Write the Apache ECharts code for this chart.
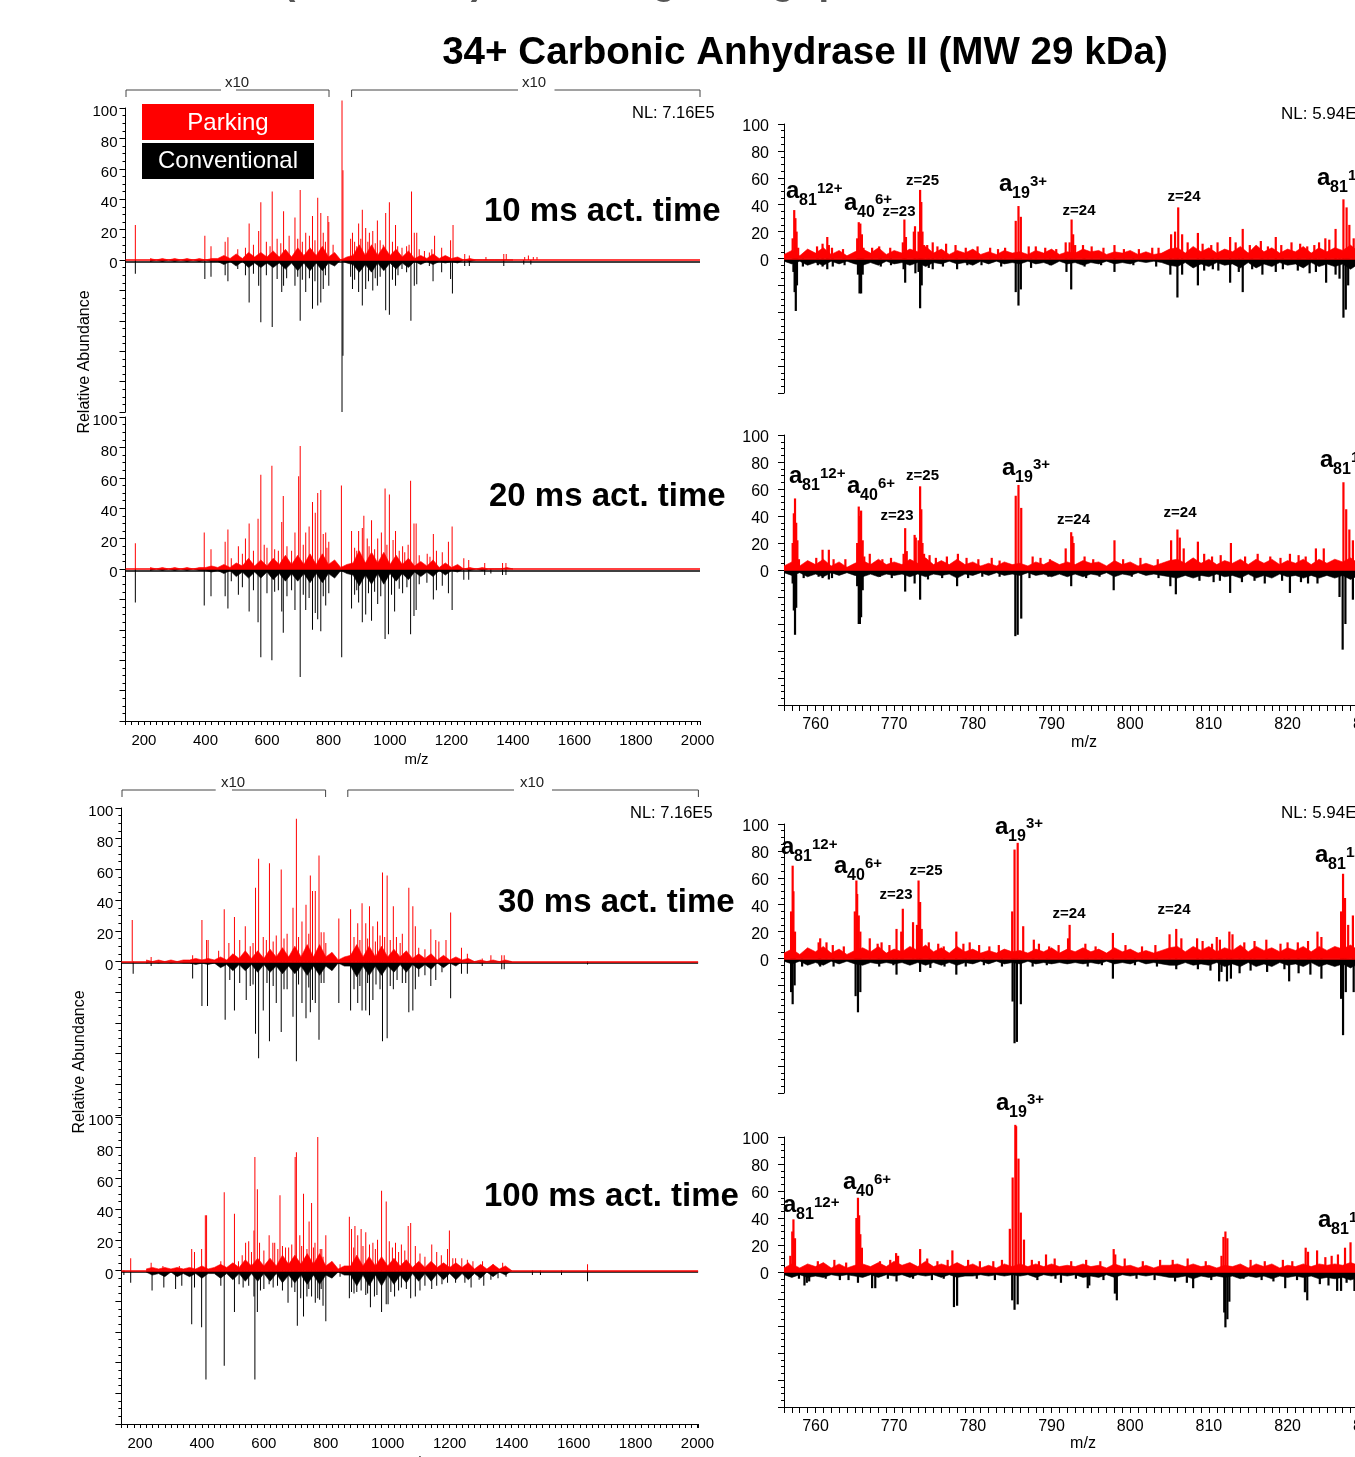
<!DOCTYPE html>
<html lang="en">
<head>
<meta charset="UTF-8">
<title>34+ Carbonic Anhydrase II</title>
<script src="https://cdn.jsdelivr.net/npm/echarts@6/dist/echarts.min.js"></script>
<style>
  html, body { margin: 0; padding: 0; background: #fff; }
  #chart { width: 1355px; height: 1457px; }
</style>
</head>
<body>
<div id="chart"></div>
<script>
// ---- peak lists [m/z, relative abundance]; conventional values are drawn downward ----
var L1_park = [[172,23],[398,16],[418,9],[464,12],[473,15],[505,7],[530,8],[542,24],[556,10],[573,19],[580,38],[598,12],[610,9],[617,45],[633,14],[645,11],[654,32],[672,16],[691,28],[700,14],[708,46],[715,12],[726,18],[738,16],[748,29],[756,13],[765,41],[775,31],[783,18],[790,12],[798,29],[801,25],[815,10],[844,105],[847,59],[872,14],[878,18],[885,12],[892,9],[898,24],[905,14],[910,33],[921,21],[928,12],[933,18],[944,19],[952,11],[959,26],[968,13],[978,10],[986,31],[998,38],[1008,12],[1018,23],[1025,9],[1039,8],[1054,9],[1062,10],[1070,45],[1079,18],[1087,18],[1095,7],[1112,6],[1128,5],[1136,7],[1145,16],[1168,8],[1197,13],[1205,23],[1243,4],[1258,3],[1312,2],[1370,4],[1378,4],[1438,2],[1450,3],[1466,2],[1478,2]];
var L1_conv = [[172,9],[398,12.5],[418,11],[464,10],[473,14],[505,6],[530,10],[542,28],[556,9],[573,17],[580,41],[598,10],[617,44],[633,12.5],[648,21],[654,17],[664,12],[691,17],[700,11],[708,40],[715,13],[726,21],[738,12],[748,32],[756,14],[765,30],[775,28],[783,19],[790,10],[801,17],[844,100],[847,63],[872,11],[878,19],[885,13],[898,21],[910,30],[921,19],[930,14],[944,20],[952,12],[959,17],[968,11],[986,33],[998,36],[1008,13],[1018,17],[1026,10],[1039,6],[1054,8],[1068,40],[1079,17],[1087,16],[1128,4],[1140,14],[1168,8],[1197,12.5],[1203,22],[1243,4],[1258,4],[1370,4],[1435,3],[1458,3]];

var L2_park = [[172,17],[396,24],[418,13],[464,18],[473,26],[484,7],[507,15],[520,10],[530,20],[542,30],[556,12],[571,33],[580,62],[591,16],[600,14],[616,68],[625,13],[637,12],[648,31],[653,48],[665,15],[680,12],[691,24],[703,61],[708,81],[718,16],[726,24],[737,28],[748,44],[757,37],[765,50],[775,52],[783,23],[791,24],[795,14],[801,18],[842,55],[875,25],[885,14],[892,12],[898,25],[910,27],[915,35],[926,20],[932,15],[940,32],[950,13],[960,20],[972,24],[984,53],[990,16],[998,49],[1010,19],[1018,25],[1030,12],[1041,15],[1048,11],[1059,16],[1067,58],[1078,30],[1085,30],[1095,9],[1121,10],[1130,8],[1141,23],[1151,12],[1170,11],[1190,18],[1202,28],[1240,7],[1256,6],[1308,4],[1366,4],[1377,4]];
var L2_conv = [[172,22],[396,24],[418,18],[464,18],[473,26],[484,8],[507,17],[520,12],[542,28],[556,14],[571,35],[580,58],[600,16],[616,60],[625,15],[637,14],[648,28],[653,42],[665,18],[680,14],[691,27],[708,71],[718,17],[726,27],[737,19],[748,40],[757,29],[765,33],[775,41],[783,18],[791,24],[801,16],[843,58],[875,26],[885,17],[892,14],[898,22],[910,35],[921,30],[930,16],[940,34],[950,15],[960,23],[970,18],[984,46],[995,43],[1005,17],[1015,28],[1030,13],[1041,16],[1055,12],[1067,43],[1078,31],[1085,27],[1095,10],[1120,9],[1141,20],[1151,14],[1170,11],[1190,16],[1202,27],[1240,7],[1256,7],[1308,4],[1328,3],[1366,4],[1377,4]];

var L3_park = [[175,27],[236,3],[370,4],[400,27],[415,14],[420,14],[454,7],[472,34],[487,12],[505,29],[522,14],[540,23],[556,10],[565,12],[573,48],[583,67],[598,16],[608,14],[618,64],[630,13],[640,17],[656,60],[665,15],[675,18],[694,35],[705,93],[712,16],[723,26],[736,37],[745,18],[750,56],[757,46],[766,46],[778,69],[785,19],[794,19],[800,12],[842,28],[880,34],[891,16],[903,25],[910,14],[917,38],[929,25],[935,15],[941,36],[952,23],[960,13],[967,26],[975,17],[983,58],[990,16],[998,56],[1008,14],[1018,36],[1028,16],[1040,12],[1047,18],[1068,48],[1081,36],[1089,23],[1100,9],[1120,8],[1139,21],[1155,14],[1165,13],[1188,14],[1203,32],[1238,9],[1257,5],[1305,2],[1333,4],[1368,4],[1376,4]];
var L3_conv = [[178,8],[236,3],[370,11],[400,29],[418,29],[454,3],[475,38],[490,12],[505,32],[522,14],[543,25],[556,16],[565,15],[573,47],[583,63],[598,32],[610,14],[618,52],[630,16],[640,27],[656,46],[665,18],[675,18],[694,36],[705,65],[712,15],[723,27],[736,37],[745,17],[750,33],[757,25],[766,27],[778,51],[785,14],[794,14],[842,27],[880,32],[891,18],[903,27],[910,16],[917,32],[929,32],[935,14],[941,35],[952,25],[962,15],[975,18],[983,52],[998,50],[1008,16],[1018,18],[1030,12],[1047,14],[1058,14],[1068,33],[1081,32],[1089,18],[1100,10],[1120,9],[1139,16],[1155,12],[1175,7],[1203,24],[1238,8],[1257,8],[1305,3],[1368,5],[1376,5],[1645,2]];

var L4_park = [[170,8],[236,5],[274,3],[327,3],[367,14],[376,12],[399,14],[411,36],[415,36],[461,6],[472,51],[505,37],[518,6],[530,10],[541,18],[551,19],[560,12],[568,26],[571,74],[579,53],[586,18],[600,13],[617,23],[629,18],[635,18],[645,14],[652,49],[660,16],[670,15],[680,15],[690,17],[701,74],[705,77],[716,23],[722,16],[728,50],[739,14],[746,32],[754,44],[760,15],[765,18],[774,87],[782,14],[787,14],[791,9],[800,23],[846,4],[876,35],[883,27],[890,15],[894,29],[903,23],[914,27],[920,16],[929,25],[941,17],[952,18],[960,14],[967,20],[980,52],[995,45],[1005,19],[1015,15],[1025,18],[1035,12],[1044,17],[1055,13],[1066,29],[1074,31],[1089,16],[1104,11],[1120,9],[1142,17],[1158,12],[1173,10],[1193,14],[1199,26],[1210,8],[1219,8],[1239,8],[1257,7],[1275,6],[1306,6],[1340,4],[1371,5],[1645,4]];
var L4_conv = [[148,3],[170,8],[239,13],[277,11],[315,12],[335,10],[367,35],[376,11],[399,37],[413,71],[461,10],[472,62],[505,27],[520,9],[533,11],[551,10],[568,17],[571,71],[579,27],[589,13],[600,12],[617,9],[630,11],[644,10],[660,13],[678,21],[690,11],[700,14],[708,36],[719,18],[728,30],[739,17],[745,12],[754,17],[766,21],[774,18],[780,19],[785,12],[791,23],[800,33],[821,4],[846,4],[876,18],[883,14],[891,15],[900,14],[914,13],[929,16],[935,15],[944,24],[957,17],[965,16],[980,27],[995,22],[1001,22],[1010,14],[1022,17],[1035,13],[1044,11],[1060,12],[1074,18],[1089,17],[1104,13],[1120,10],[1142,12],[1158,10],[1175,9],[1193,8],[1219,8],[1249,8],[1269,11],[1295,6],[1310,10],[1333,6],[1356,5],[1382,4],[1467,3],[1493,3],[1561,3],[1645,7]];

// dense low-level signal under the left spectra, every 20 m/z
var leftGrassMz = [220,240,260,280,300,320,340,360,380,400,420,440,460,480,500,520,540,560,580,600,620,640,660,680,700,720,740,760,780,800,820,840,860,880,900,920,940,960,980,1000,1020,1040,1060,1080,1100,1120,1140,1160,1180,1200,1220,1240,1260,1280,1300,1320,1340,1360,1380,1400];
var L1_parkGrass = [1,0,1,0,1,0,1,0,1,0,1, 1,3,1,4,1,5,2,5,2,6, 2,7,2,8,3,8,3,9,2,5, 0,2,3,10,3,10,3,9,3,7, 2,6,1,3,1,4,1,3,1,2, 0,1,0,0,0,0,0,0,0];
var L1_convGrass = [1,0,1,0,1,0,1,0,1,0,1, 1,3,1,4,1,5,2,5,2,5, 2,6,2,7,2,7,2,7,2,4, 0,2,3,8,3,8,2,7,2,6, 2,5,1,3,1,3,1,2,1,2, 0,1,0,0,0,0,0,0,0];
var L2_parkGrass = [1,0,1,0,1,0,1,0,1,1,2, 1,3,1,4,2,7,2,6,2,7, 3,9,3,9,3,10,3,10,3,6, 1,3,4,12,4,11,4,11,3,9, 3,7,2,5,2,6,1,4,1,3, 0,1,0,1,0,0,0,1,0];
var L2_convGrass = [1,0,1,0,1,0,1,0,1,1,2, 1,3,1,5,2,6,2,6,2,7, 3,8,3,8,3,9,3,9,3,6, 1,3,4,11,4,10,3,10,3,8, 3,7,2,5,2,5,1,4,1,2, 0,1,0,1,0,0,0,0,0];
var L3_parkGrass = [1,0,1,0,1,0,1,1,2,1,2, 1,3,1,5,2,7,2,7,2,8, 3,9,3,10,3,11,3,11,3,6, 1,3,4,11,3,10,3,10,3,8, 3,7,2,5,2,5,1,4,1,3, 1,2,0,1,0,1,0,1,0];
var L3_convGrass = [1,0,1,0,1,0,1,1,2,1,2, 1,4,2,6,2,6,2,7,2,7, 3,8,3,8,3,9,3,9,3,6, 1,3,3,10,3,9,3,9,3,7, 2,7,2,5,2,5,1,4,1,3, 0,1,0,1,0,0,0,0,0];
var L4_parkGrass = [1,2,1,2,1,2,1,2,1,3,1, 2,4,2,5,2,7,3,8,3,8, 3,10,4,10,4,11,4,11,3,6, 1,3,3,10,3,9,3,9,3,8, 3,7,2,6,2,6,2,5,2,5, 2,5,1,4,1,4,1,3,0];
var L4_convGrass = [1,3,2,4,1,4,2,4,2,5,2, 2,5,2,6,2,7,2,7,2,7, 2,8,3,8,3,9,3,9,3,5, 1,3,3,10,3,10,3,10,3,9, 3,8,2,7,2,7,2,6,2,6, 2,6,2,5,1,4,1,3,0];

// zoomed spectra: labelled ions and larger features
var R1_park = [[757.1,15],[757.3,36],[757.45,30],[757.6,20],[757.8,8],[760.9,11],[761.5,16],[761.7,10],[765.3,15],[765.5,27],[765.7,26],[765.9,18],[766.1,8],[767.2,8],[771.1,12],[771.3,29],[771.5,16],[772.5,20],[772.65,24],[773.1,20],[773.3,51],[773.45,42],[773.6,20],[773.8,10],[774.9,12],[784.1,8],[785.45,28],[785.8,39],[786.1,31],[788,9],[791.8,12],[792.3,12],[792.55,29],[792.75,18],[793,10],[794,10],[798,10],[802.8,8],[805.2,18],[805.7,20],[806.1,38],[806.6,18],[807.3,12],[808.6,19],[812.7,16],[813.4,12],[814.3,22],[818.5,16],[820.5,12],[824,12],[824.8,15],[825.3,14],[826.1,22],[827.1,44],[827.5,38],[827.85,25],[828.4,15]];
var R1_conv = [[757.2,10],[757.35,25],[757.5,39],[757.65,20],[760.9,6],[761.5,8],[765.4,12],[765.6,26],[765.8,26],[766,12],[771.2,8],[771.4,18],[772.7,11],[773.1,10],[773.3,37],[773.5,20],[774.9,8],[778,8],[785.45,25],[785.8,35],[786.1,23],[791.9,10],[792.5,23],[798,10],[805.1,12],[806,29],[806.6,12],[808.6,20],[812.7,18],[814.3,25],[818.5,10],[824.9,18],[826.1,12],[826.6,15],[827.1,44],[827.4,38],[827.7,20]];
var R2_park = [[757.1,20],[757.25,42],[757.4,53],[757.55,35],[757.7,22],[757.9,8],[760.9,15],[761.7,15],[765.3,20],[765.5,47],[765.65,40],[765.8,44],[766,22],[766.2,10],[766.9,12],[771.2,12],[771.4,31],[771.6,14],[772.6,26],[772.75,24],[773.1,22],[773.3,62],[773.45,45],[773.6,20],[773.8,12],[778.1,12],[785.45,55],[785.8,63],[786.15,46],[787.6,10],[791.8,16],[792.5,28],[792.65,25],[792.8,20],[798,22],[805.2,22],[806,30],[806.3,24],[806.8,16],[808.6,21],[812.8,20],[820.3,12],[823.6,16],[824.6,16],[827.1,65],[827.45,45],[827.85,30],[828.3,22]];
var R2_conv = [[757.1,10],[757.25,30],[757.4,48],[757.55,28],[760.9,6],[761.7,7],[765.3,12],[765.5,40],[765.65,40],[765.8,35],[766,15],[771.4,16],[772.6,10],[773.3,22],[778,12],[785.4,49],[785.7,48],[786.15,36],[792.5,12],[797.9,15],[805.1,12],[805.8,18],[812.7,17],[820.3,17],[823.8,10],[826.6,20],[827,59],[827.35,40],[828.3,22]];
var R3_park = [[756.9,35],[757.1,69],[757.2,50],[757.4,20],[760.6,15],[761.4,12],[765,35],[765.2,58],[765.3,48],[765.5,32],[765.7,20],[766.9,15],[768.4,12],[770.3,22],[770.9,20],[771.1,37],[772.4,27],[772.9,25],[773.1,58],[773.3,42],[773.5,22],[777.9,20],[779.6,12],[785,35],[785.3,81],[785.7,86],[786.4,24],[787.75,14],[792.1,15],[792.3,25],[797.8,19],[805,18],[805.85,22],[806.5,15],[808.5,15],[811,16],[812.6,20],[813,18],[820,12],[823.8,20],[824.3,16],[826.8,35],[827.05,63],[827.3,45],[827.7,25],[828.3,32]];
var R3_conv = [[756.9,25],[757.1,34],[757.35,20],[760.6,6],[765.1,28],[765.4,40],[765.7,25],[770.3,12],[773.3,10],[777.9,12],[785.05,32],[785.3,63],[785.6,62],[786.1,34],[797.8,15],[805.85,8],[811.3,17],[812.3,17],[812.8,15],[820.2,17],[824.3,15],[826.8,30],[827.05,57],[827.4,25],[828.4,25]];
var R4_park = [[756.8,12],[757.05,30],[757.2,39],[757.4,25],[765.2,40],[765.4,55],[765.55,42],[765.7,28],[765.9,18],[770.25,14],[770.5,12],[773.3,17],[777.4,16],[784.7,32],[785.06,70],[785.4,109],[785.5,108],[785.8,84],[786.1,44],[786.5,24],[789.3,13],[797.9,17],[798.1,13],[811.6,12],[811.85,26],[812.1,30],[812.35,25],[822.3,18],[822.6,15],[823.75,16],[827.3,18],[828,22]];
var R4_conv = [[758.6,10],[758.9,8],[759.2,7],[764.2,6],[765.4,8],[767.2,12],[767.6,12],[770.3,7],[777.6,26],[778,25],[785,21],[785.3,28],[785.7,24],[791.2,8],[794.6,12],[794.8,10],[798.05,16],[798.3,21],[808,12],[811.95,30],[812.1,41],[812.35,35],[812.6,22],[819.7,12],[822.2,15],[822.5,21],[826.3,14],[826.8,14],[828.5,14]];

// zoomed spectra: small spikes standing out of the noise
var R1_parkMinor = [[760.2,9],[762.1,8],[763.5,7],[768.1,9],[769.5,8],[774.2,10],[775.5,9],[776.6,11],[777.8,10],[779.1,8],[780.6,9],[782.2,8],[783.2,7],[787.1,9],[789.2,8],[790.6,7],[795.1,9],[796.6,8],[799.2,7],[801.1,7],[803.6,8],[809.2,11],[810.3,10],[811.1,12],[815.2,10],[816.6,13],[817.5,9],[819.2,10],[821.6,11],[822.5,9],[823.4,10],[829.2,11],[830.5,9]];
var R1_convMinor = [[758.4,6],[760.3,5],[762.2,6],[763.7,5],[768.3,6],[769.6,5],[774.4,7],[776.2,6],[779.3,5],[781.1,5],[783.6,6],[787.4,7],[789.8,5],[794.2,6],[796.3,5],[800.4,5],[803.3,6],[809.4,9],[810.5,8],[811.2,9],[813.8,10],[815.5,8],[816.8,12],[819.4,8],[821.3,9],[822.8,11],[823.6,10],[829.1,10]];
var R2_parkMinor = [[760.1,9],[762.3,8],[763.8,8],[768.5,8],[769.6,9],[774.5,11],[775.3,9],[776.7,10],[779.2,9],[780.7,8],[782.4,9],[783.4,7],[788.6,9],[789.8,8],[794.2,10],[795.3,8],[799.1,8],[801.3,9],[803.5,8],[809.4,12],[810.4,10],[811.5,11],[814.6,10],[816.2,12],[817.8,10],[819.1,9],[821.4,11],[822.3,10],[829.1,10],[830.6,9]];
var R2_convMinor = [[758.5,6],[760.4,5],[762.1,6],[768.2,5],[769.7,6],[774.3,7],[776.1,6],[779.4,6],[781.2,5],[783.4,5],[787.2,6],[789.6,5],[794.4,6],[796.1,5],[800.2,5],[803.6,6],[808.8,8],[810.6,9],[811.4,8],[814.2,9],[815.8,8],[817.1,10],[819.3,8],[821.7,9],[822.6,10],[829.3,9]];
var R3_parkMinor = [[760.4,12],[762.2,10],[763.6,9],[767.9,11],[769.4,10],[774.4,12],[775.6,11],[776.3,9],[778.8,11],[780.8,10],[782.1,9],[783.3,10],[788.4,11],[789.7,9],[790.9,10],[794.3,11],[795.6,9],[799.4,10],[801.5,9],[803.2,10],[809.2,13],[810.4,11],[811.4,14],[814.5,12],[815.8,13],[817.3,14],[819.1,11],[821.3,12],[822.6,13],[829,12],[830.4,11]];
var R3_convMinor = [[758.3,6],[760.5,5],[762.3,6],[768.1,6],[769.9,5],[774.6,7],[776.4,6],[779.1,6],[781.4,5],[783.7,6],[787.6,6],[789.4,5],[794.6,6],[796.4,5],[800.6,5],[803.4,6],[808.6,8],[810.2,9],[811.6,10],[813.9,11],[815.3,9],[817.4,10],[819.6,8],[821.4,11],[822.9,12],[829.4,10]];
var R4_parkMinor = [[760.3,8],[762.4,9],[763.9,7],[768.2,8],[769.5,9],[774.2,10],[775.5,8],[776.8,9],[779.4,9],[780.9,8],[782.6,8],[783.7,9],[787.5,9],[788.4,8],[790.4,10],[792.5,8],[794.4,9],[796.2,8],[799.3,10],[801.6,8],[803.8,9],[805.4,9],[807.3,10],[809.6,8],[815.3,9],[817.1,8],[819.4,9],[820.6,8],[824.8,11],[825.6,12],[826.4,13],[829.3,12],[830.3,11]];
var R4_convMinor = [[757.9,5],[761.3,5],[763.1,6],[769.2,5],[772.4,5],[774.8,6],[776.3,5],[780.5,5],[782.8,6],[788.2,6],[790.5,5],[793.1,5],[796.6,6],[800.8,5],[803.1,6],[805.7,7],[807.2,8],[810.3,6],[814.4,5],[816.7,6],[818.2,7],[821.2,6],[824.1,9],[825.2,10],[827.5,8],[829.6,9]];

// baseline noise under the zoomed spectra, every 1 m/z from 756 to 832
var rightNoiseMz = [756,757,758,759,760,761,762,763,764,765,766,767,768,769,770,771,772,773,774,775,776,777,778,779,780,781,782,783,784,785,786,787,788,789,790,791,792,793,794,795,796,797,798,799,800,801,802,803,804,805,806,807,808,809,810,811,812,813,814,815,816,817,818,819,820,821,822,823,824,825,826,827,828,829,830,831,832];
var R1_parkNoise = [3,6,2,7,4,8,3,6,2,5, 7,4,8,3,6,4,7,5,9,4, 7,3,6,4,7,3,5,3,6,4, 5,3,6,4,7,3,5,4,7,5, 6,3,5,4,6,3,5,3,4,7, 8,4,9,5,8,4,7,5,9,4, 10,5,8,4,7,5,9,4,8,5, 8,6,10,5,9,4,7];
var R1_convNoise = [2,4,2,5,3,5,2,4,2,4, 5,3,5,2,4,3,5,3,6,3, 4,2,4,3,5,2,4,2,4,3, 4,2,4,3,5,2,4,3,5,3, 4,2,4,3,4,2,3,2,3,5, 6,3,7,4,6,3,5,4,7,3, 7,4,6,3,5,4,7,3,6,4, 6,4,8,4,6,3,5];
var R2_parkNoise = [3,6,3,7,4,8,3,6,2,5, 7,4,8,4,6,4,8,5,9,4, 7,4,8,4,6,3,5,3,6,4, 5,3,6,4,7,4,6,4,7,5, 6,3,7,4,6,3,5,3,5,7, 8,5,9,5,8,4,7,5,8,4, 8,5,8,4,7,5,8,4,8,5, 8,6,9,5,8,4,7];
var R2_convNoise = [2,4,2,5,3,5,2,4,2,4, 5,3,5,3,4,3,5,3,5,3, 4,3,6,3,4,2,4,2,4,3, 4,2,4,3,5,3,5,3,5,3, 4,2,5,3,4,2,4,3,4,5, 6,4,6,4,5,3,5,4,6,3, 6,4,6,3,5,4,6,4,6,4, 6,4,7,4,6,3,5];
var R3_parkNoise = [4,7,3,8,5,9,4,7,3,6, 8,5,9,4,7,5,9,6,10,5, 8,4,9,5,7,4,6,4,7,5, 6,4,7,5,8,4,7,5,8,5, 7,4,8,5,7,4,6,4,6,8, 9,5,9,6,9,5,8,6,10,5, 9,6,8,5,8,6,9,5,9,6, 9,7,10,6,9,5,8];
var R3_convNoise = [2,4,2,5,3,5,2,4,2,4, 5,3,4,3,4,3,5,3,5,3, 5,3,5,3,4,2,4,2,4,3, 4,2,4,3,4,3,4,3,4,3, 4,2,4,3,4,2,4,3,4,5, 5,3,5,4,5,3,6,4,6,3, 6,4,6,3,5,4,6,3,6,4, 6,4,7,4,6,3,5];
var R4_parkNoise = [3,6,3,6,4,7,3,6,3,5, 6,4,7,4,8,5,7,4,8,4, 6,4,7,4,6,3,5,3,6,4, 6,4,6,4,6,4,5,4,6,4, 5,3,6,4,5,3,5,3,5,5, 6,4,6,4,5,3,5,4,6,3, 6,4,6,3,5,4,6,4,6,5, 6,5,7,5,6,4,6];
var R4_convNoise = [2,4,2,4,3,4,2,3,2,3, 4,2,4,2,3,2,4,2,3,2, 4,2,4,3,3,2,3,2,3,2, 3,2,4,2,3,2,3,2,4,3, 4,2,4,2,3,2,3,2,3,4, 4,3,5,3,4,3,4,3,5,3, 4,3,5,3,4,3,4,3,5,4, 5,4,6,4,5,3,4];

// ---- layout ----
var FONT = '"Liberation Sans", Arial, sans-serif';
var RED = '#ff0000';
var leftTop = {left: 125.5, width: 574.5, min: 140, max: 2008};
var leftBot = {left: 121.4, width: 576.7, min: 140, max: 2002};
var rightCol = {left: 784, width: 598, min: 756, max: 832};

var panels = [
    {col: leftTop, top: 108, height: 304, showX: false, park: L1_park, conv: L1_conv, parkNoise: L1_parkGrass, convNoise: L1_convGrass},
    {col: leftTop, top: 417, height: 304, showX: true, park: L2_park, conv: L2_conv, parkNoise: L2_parkGrass, convNoise: L2_convGrass},
    {col: leftBot, top: 808, height: 307, showX: false, park: L3_park, conv: L3_conv, parkNoise: L3_parkGrass, convNoise: L3_convGrass},
    {col: leftBot, top: 1117, height: 307, showX: true, park: L4_park, conv: L4_conv, parkNoise: L4_parkGrass, convNoise: L4_convGrass},
    {col: rightCol, top: 124, height: 269, showX: false, park: R1_park.concat(R1_parkMinor), conv: R1_conv.concat(R1_convMinor), parkNoise: R1_parkNoise, convNoise: R1_convNoise},
    {col: rightCol, top: 435, height: 270, showX: true, park: R2_park.concat(R2_parkMinor), conv: R2_conv.concat(R2_convMinor), parkNoise: R2_parkNoise, convNoise: R2_convNoise},
    {col: rightCol, top: 824, height: 269, showX: false, park: R3_park.concat(R3_parkMinor), conv: R3_conv.concat(R3_convMinor), parkNoise: R3_parkNoise, convNoise: R3_convNoise},
    {col: rightCol, top: 1137, height: 270, showX: true, park: R4_park.concat(R4_parkMinor), conv: R4_conv.concat(R4_convMinor), parkNoise: R4_parkNoise, convNoise: R4_convNoise}
];

var grid = [], xAxis = [], yAxis = [], series = [];

panels.forEach(function (p, i) {
    var wide = p.col !== rightCol;
    var fs = wide ? 15 : 16;
    var mz = wide ? leftGrassMz : rightNoiseMz;
    var labelStep = wide ? 200 : 10;

    grid.push({left: p.col.left, top: p.top, width: p.col.width, height: p.height,
        containLabel: false, outerBoundsMode: 'none'});

    xAxis.push({
        type: 'value', gridIndex: i, min: p.col.min, max: p.col.max, interval: wide ? 20 : 1,
        show: p.showX,
        axisLine: {onZero: false, lineStyle: {color: '#000', width: 1}},
        axisTick: {length: wide ? 4 : 6, lineStyle: {color: '#000'}},
        axisLabel: {color: '#000', fontSize: fs, fontFamily: FONT, margin: 12,
            formatter: function (v) { return v % labelStep === 0 ? String(v) : ''; }},
        splitLine: {show: false}
    });

    yAxis.push({
        type: 'value', gridIndex: i, min: -100, max: 100, interval: 20,
        axisLine: {show: true, lineStyle: {color: '#000', width: 1}},
        axisTick: {show: true, length: 6, lineStyle: {color: '#000'}},
        minorTick: {show: true, splitNumber: 4, length: 3, lineStyle: {color: '#000'}},
        axisLabel: {color: '#000', fontSize: fs, fontFamily: FONT, margin: wide ? 8 : 15,
            verticalAlign: 'top', lineHeight: wide ? 8 : 6,
            formatter: function (v) { return v >= 0 ? String(v) : ''; }},
        splitLine: {show: false}
    });

    var bw = wide ? 1 : 2.2;
    series.push({
        type: 'bar', xAxisIndex: i, yAxisIndex: i, barWidth: bw, barGap: '-100%', clip: false,
        silent: true, itemStyle: {color: '#000'},
        data: p.conv.map(function (d) { return [d[0], -d[1]]; }),
        markLine: {silent: true, symbol: ['none', 'none'], label: {show: false},
            lineStyle: {color: '#000', width: 1.5, type: 'solid'}, data: [{yAxis: -0.9}]}
    });
    series.push({
        type: 'line', xAxisIndex: i, yAxisIndex: i, symbol: 'none', silent: true,
        lineStyle: {color: '#000', width: 0.6}, areaStyle: {color: '#000', opacity: 1},
        data: mz.map(function (m, k) { return [m, -p.convNoise[k]]; })
    });
    series.push({
        type: 'line', xAxisIndex: i, yAxisIndex: i, symbol: 'none', silent: true,
        lineStyle: {color: RED, width: 0.6}, areaStyle: {color: RED, opacity: 1},
        data: mz.map(function (m, k) { return [m, p.parkNoise[k]]; })
    });
    series.push({
        type: 'bar', xAxisIndex: i, yAxisIndex: i, barWidth: bw, barGap: '-100%', clip: false,
        silent: true, itemStyle: {color: RED},
        data: p.park.map(function (d) { return [d[0], d[1]]; }),
        markLine: {silent: true, symbol: ['none', 'none'], label: {show: false},
            lineStyle: {color: RED, width: 1.5, type: 'solid'}, data: [{yAxis: 0}]}
    });
});

// ---- annotations ----
function T(x, y, text, size, o) {
    o = o || {};
    return {type: 'text', x: x, y: y, silent: true, rotation: o.rot || 0, z: 10,
        style: {text: text, fontSize: size, fontWeight: o.bold ? 'bold' : 'normal', fontFamily: FONT,
            fill: o.fill || '#000', align: o.align || 'left', verticalAlign: 'middle'}};
}
function ion(x, yc, sub, sup) {
    return [T(x, yc - 2, 'a', 24, {bold: true}),
        T(x + 13, yc + 7.5, sub, 16, {bold: true}),
        T(x + 31, yc - 5, sup, 15, {bold: true})];
}
function bracket(x1, x2, g1, g2, y, lx) {
    var st = {stroke: '#444', lineWidth: 1, fill: null};
    return [
        {type: 'polyline', silent: true, shape: {points: [[x1, y + 7], [x1, y], [g1, y]]}, style: st},
        {type: 'polyline', silent: true, shape: {points: [[g2, y], [x2, y], [x2, y + 7]]}, style: st},
        T(lx, y - 7, 'x10', 15, {align: 'center', fill: '#222'})
    ];
}

var gfx = [];
// cropped heading above the figure
[['(', 289], [')', 477], ['g', 664], ['g', 783], ['p', 830]].forEach(function (c) {
    gfx.push(T(c[1], -16, c[0], 38, {bold: true, fill: '#555', align: 'center'}));
});
gfx.push(T(805, 53, '34+ Carbonic Anhydrase II (MW 29 kDa)', 38.6, {bold: true, align: 'center'}));

gfx = gfx.concat(bracket(126, 329, 221, 236, 90, 237), bracket(351.6, 700, 518, 554.5, 90, 534),
    bracket(122, 325.6, 215.7, 232, 790, 233), bracket(347.8, 698.4, 514, 552, 790, 532));

gfx.push({type: 'rect', silent: true, shape: {x: 142, y: 104, width: 172, height: 36}, style: {fill: RED}});
gfx.push({type: 'rect', silent: true, shape: {x: 142, y: 143, width: 172, height: 36}, style: {fill: '#000'}});
gfx.push(T(228, 123, 'Parking', 24, {align: 'center', fill: '#fff'}));
gfx.push(T(228, 161, 'Conventional', 24, {align: 'center', fill: '#fff'}));

gfx.push(T(632, 113, 'NL: 7.16E5', 16.5), T(630, 813, 'NL: 7.16E5', 16.5),
    T(1281, 114, 'NL: 5.94E5', 17), T(1281, 813, 'NL: 5.94E5', 17));

gfx.push(T(484, 212, '10 ms act. time', 33, {bold: true}), T(489, 497, '20 ms act. time', 33, {bold: true}),
    T(498, 903, '30 ms act. time', 33, {bold: true}), T(484, 1197, '100 ms act. time', 33, {bold: true}));

gfx.push(T(85, 362, 'Relative Abundance', 16, {rot: Math.PI / 2, align: 'center'}),
    T(80, 1062, 'Relative Abundance', 16, {rot: Math.PI / 2, align: 'center'}));
gfx.push(T(416.5, 760, 'm/z', 15, {align: 'center'}), T(1084, 743, 'm/z', 16, {align: 'center'}),
    T(416, 1463, 'm/z', 15, {align: 'center'}), T(1083, 1444, 'm/z', 16, {align: 'center'}));

gfx = gfx.concat(
    ion(786, 193.5, '81', '12+'), ion(844, 205, '40', '6+'), ion(999, 186.5, '19', '3+'), ion(1317, 180.5, '81', '12+'),
    ion(789, 478.5, '81', '12+'), ion(847, 488.5, '40', '6+'), ion(1002, 470, '19', '3+'), ion(1320, 462.5, '81', '12+'),
    ion(781, 849.5, '81', '12+'), ion(834, 868.5, '40', '6+'), ion(995, 829, '19', '3+'), ion(1315, 857.5, '81', '12+'),
    ion(783, 1207.5, '81', '12+'), ion(843, 1184.5, '40', '6+'), ion(996, 1105, '19', '3+'), ion(1318, 1222.5, '81', '12+')
);
[[899, 211.5, 'z=23'], [922.5, 181, 'z=25'], [1079, 211, 'z=24'], [1184, 197, 'z=24'],
 [897, 516, 'z=23'], [922.5, 476, 'z=25'], [1073.5, 520, 'z=24'], [1180, 513, 'z=24'],
 [896, 895, 'z=23'], [926, 871, 'z=25'], [1069, 914, 'z=24'], [1174, 910, 'z=24']].forEach(function (z) {
    gfx.push(T(z[0], z[1], z[2], 15, {bold: true, align: 'center'}));
});

var chart = echarts.init(document.getElementById('chart'));
chart.setOption({
    animation: false,
    backgroundColor: '#fff',
    grid: grid,
    xAxis: xAxis,
    yAxis: yAxis,
    series: series,
    graphic: gfx
});
window.onresize = chart.resize;
</script>
</body>
</html>
